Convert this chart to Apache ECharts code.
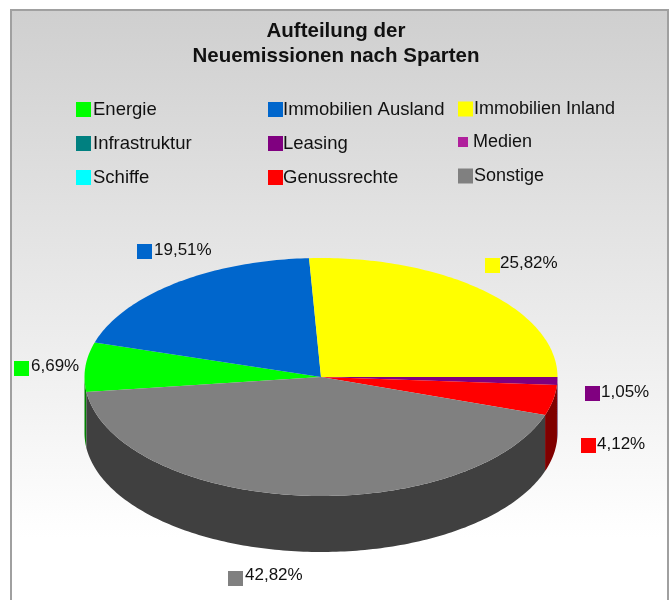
<!DOCTYPE html>
<html>
<head>
<meta charset="utf-8">
<title>Aufteilung der Neuemissionen nach Sparten</title>
<script src="https://cdn.jsdelivr.net/npm/echarts@6/dist/echarts.min.js"></script>
<style>
    html, body { margin: 0; padding: 0; background: #fff; }
    #main { width: 671px; height: 600px; }
</style>
</head>
<body>
<div id="main"></div>
<script>
// data, in legend order (clockwise round the pie)
var categories = ['Energie', 'Immobilien Ausland', 'Immobilien Inland', 'Infrastruktur', 'Leasing', 'Medien', 'Schiffe', 'Genussrechte', 'Sonstige'];
var shares = [6.69, 19.51, 25.82, 0, 1.05, 0, 0, 4.12, 42.82];

var topColors = ['#00ff00', '#0066cc', '#ffff00', '#008080', '#800080', '#b0209c', '#00ffff', '#ff0000', '#808080'];
var sideColors = ['#008000', '#003366', '#808000', '#004040', '#400040', '#580f4e', '#008080', '#800000', '#404040'];

// pie layout
var cx = 321, cy = 377, rx = 236.5, ry = 119, depth = 56;
var startAngle = 262.8; // degrees clockwise from the top

// swatch x, swatch y, text x, text middle y
var labelSpots = {
    'Energie': [14, 361, 31, 366],
    'Immobilien Ausland': [137, 244, 154, 250],
    'Immobilien Inland': [485, 258, 500, 263],
    'Leasing': [585, 386, 601, 392],
    'Genussrechte': [581, 438, 597, 444],
    'Sonstige': [228, 571, 245, 575]
};

var total = shares.reduce(function (a, b) { return a + b; }, 0);

function edgePoint(deg, dy) {
    var rad = deg * Math.PI / 180;
    return [cx + rx * Math.sin(rad), cy - ry * Math.cos(rad) + dy];
}

function arcPoints(from, to, dy) {
    var pts = [];
    var steps = Math.max(2, Math.ceil(to - from));
    for (var i = 0; i <= steps; i++) {
        pts.push(edgePoint(from + (to - from) * i / steps, dy));
    }
    return pts;
}

// the part of the rim that faces the viewer, for angles that may run past 360
function sideRange(from, to) {
    for (var k = -1; k <= 1; k++) {
        var a = Math.max(from, 90 + 360 * k);
        var b = Math.min(to, 270 + 360 * k);
        if (b > a) return [a, b];
    }
    return null;
}

function renderSlice(params, api) {
    var idx = params.seriesIndex;
    var value = api.value(0);
    if (!value) return null;

    var before = 0;
    for (var i = 0; i < idx; i++) before += shares[i];
    var from = startAngle + before / total * 360;
    var to = from + value / total * 360;

    var children = [];
    var side = sideRange(from, to);
    if (side) {
        children.push({
            type: 'polygon',
            shape: { points: arcPoints(side[0], side[1], 0).concat(arcPoints(side[0], side[1], depth).reverse()) },
            style: { fill: sideColors[idx] }
        });
    }
    children.push({
        type: 'polygon',
        shape: { points: [[cx, cy]].concat(arcPoints(from, to, 0)) },
        style: { fill: topColors[idx] }
    });

    var spot = labelSpots[categories[idx]];
    children.push({
        type: 'rect',
        shape: { x: spot[0], y: spot[1], width: 15, height: 15 },
        style: { fill: topColors[idx] }
    });
    children.push({
        type: 'text',
        style: {
            text: value.toFixed(2).replace('.', ',') + '%',
            x: spot[2],
            y: spot[3],
            verticalAlign: 'middle',
            fill: '#111',
            font: '17px "Liberation Sans"'
        }
    });
    return { type: 'group', children: children };
}

function legendColumn(names, left, top, size, gap, fontSize, shift) {
    return {
        orient: 'vertical',
        left: left,
        top: top,
        padding: 0,
        itemWidth: size,
        itemHeight: size,
        itemGap: gap,
        icon: 'rect',
        selectedMode: false,
        textStyle: { fontFamily: 'Liberation Sans', fontSize: fontSize, color: '#111', padding: [0, 0, 0, shift] },
        data: names
    };
}

var myChart = echarts.init(document.getElementById('main'), null, { renderer: 'canvas' });

var option = {
    animation: false,
    backgroundColor: '#ffffff',
    title: {
        text: 'Aufteilung der\nNeuemissionen nach Sparten',
        left: 331,
        top: 14,
        textAlign: 'center',
        textStyle: { fontFamily: 'Liberation Sans', fontSize: 20.5, fontWeight: 'bold', color: '#111', lineHeight: 25 }
    },
    legend: [
        legendColumn(['Energie', 'Infrastruktur', 'Schiffe'], 76, 100, 15, 15, 18.5, -3),
        legendColumn(['Immobilien Ausland', 'Leasing', 'Genussrechte'], 268, 100, 15, 15, 18.5, -5),
        legendColumn(['Immobilien Inland'], 458, 100, 15, 0, 18, -4),
        legendColumn(['Medien'], 458, 133, 10, 0, 18, 0),
        legendColumn(['Sonstige'], 458, 167, 15, 0, 18, -4)
    ],
    graphic: [{
        type: 'rect',
        z: -10,
        silent: true,
        shape: { x: 11, y: 10, width: 657, height: 620 },
        style: {
            stroke: '#a0a0a0',
            lineWidth: 2,
            fill: new echarts.graphic.LinearGradient(0, 0, 0, 1, [
                { offset: 0, color: '#cfcfcf' },
                { offset: 0.85, color: '#ffffff' },
                { offset: 1, color: '#ffffff' }
            ])
        }
    }],
    series: categories.map(function (name, i) {
        return {
            type: 'custom',
            name: name,
            coordinateSystem: 'none',
            itemStyle: { color: topColors[i] },
            renderItem: renderSlice,
            data: [[shares[i]]]
        };
    })
};

myChart.setOption(option);
</script>
</body>
</html>
